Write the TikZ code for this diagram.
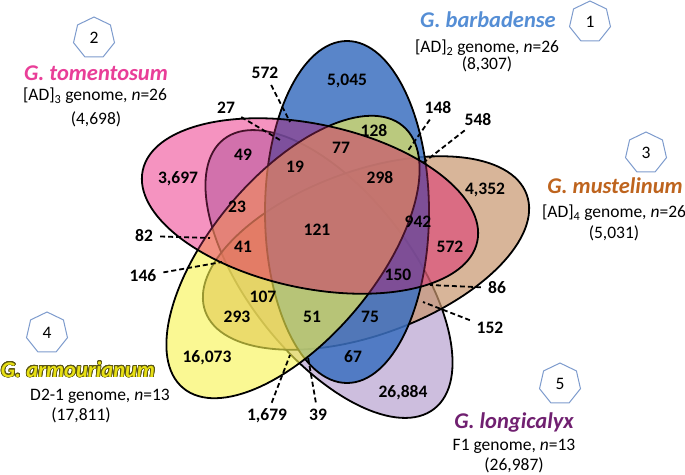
\documentclass[tikz,border=0pt]{standalone}
\usepackage{fontspec}
\setmainfont{Carlito}
\usepackage{tikz}
\usetikzlibrary{shapes.geometric}
\usepackage[copies]{contour}
\contourlength{0.7pt}
\contournumber{24}

\definecolor{bluefill}{RGB}{60,112,192}
\definecolor{pinksoft}{RGB}{250,185,215}
\definecolor{pinkfill}{RGB}{235,60,140}
\definecolor{tanfill}{RGB}{200,150,110}
\definecolor{yellowfill}{RGB}{247,244,80}
\definecolor{lavfill}{RGB}{205,190,222}
\definecolor{hepline}{RGB}{125,155,205}
\definecolor{bluetext}{RGB}{85,142,213}
\definecolor{pinktext}{RGB}{233,62,152}
\definecolor{browntext}{RGB}{190,100,30}
\definecolor{yellowtext}{RGB}{232,224,20}
\definecolor{edgetext}{RGB}{90,85,20}
\definecolor{purpletext}{RGB}{112,32,112}

\begin{document}
\begin{tikzpicture}[x=1pt, y=-1pt,
        venn/.style = {line width=1.8pt, draw=black},
        cnt/.style = {font=\fontsize{17.5}{18}\selectfont\bfseries, text height=11pt, text depth=0pt, inner sep=1pt},
        hept/.style = {draw=hepline, line width=1pt, fill=white, regular polygon, regular polygon sides=7, minimum size=42pt, inner sep=0pt, font=\fontsize{17.5}{18}\selectfont},
        species/.style = {font=\fontsize{22.5}{23}\selectfont\bfseries\itshape, text height=14pt, text depth=0pt, inner sep=0pt},
        genome/.style = {font=\fontsize{17.5}{18}\selectfont, text height=11pt, text depth=0pt, inner sep=0pt},
        leader/.style = {line width=1.8pt, dash pattern=on 5pt off 3pt, shorten <=6pt}]
        \useasboundingbox (0,0) rectangle (685,474);

        \draw[venn, fill=lavfill] (329,274) ellipse [x radius=171pt, y radius=82pt, rotate=-52];
        \draw[venn, fill=tanfill, fill opacity=0.7] (366,253) ellipse [x radius=171pt, y radius=82pt, rotate=20];
        \draw[venn, fill=bluefill, fill opacity=0.85] (347,212) ellipse [x radius=171pt, y radius=82pt, rotate=90];
        \draw[venn, fill=yellowfill, fill opacity=0.62] (293,257) ellipse [x radius=171pt, y radius=82pt, rotate=50];
        \fill[pinksoft, blend mode=multiply] (310,206) ellipse [x radius=171pt, y radius=82pt, rotate=-12];
        \draw[venn, fill=pinkfill, fill opacity=0.3] (310,206) ellipse [x radius=171pt, y radius=82pt, rotate=-12];

        \node[hept] (h1) at (590,22) {1};
        \node[hept] (h2) at (94,38) {2};
        \node[hept] (h3) at (646,153) {3};
        \node[hept] (h4) at (47,333) {4};
        \node[hept] (h5) at (560,384) {5};

        \node[species, text=bluetext] (t1) at (488,20) {G. barbadense};
        \node[genome] (g1) at (487,47) {[AD]\textsubscript{2} genome, \textit{n}=26};
        \node[genome] (c1) at (487,64) {(8,307)};
        \node[species, text=pinktext] (t2) at (96,73) {G. tomentosum};
        \node[genome] (g2) at (95,95) {[AD]\textsubscript{3} genome, \textit{n}=26};
        \node[genome] (c2) at (96,119) {(4,698)};
        \node[species, text=browntext] (t3) at (615,186) {G. mustelinum};
        \node[genome] (g3) at (614,212) {[AD]\textsubscript{4} genome, \textit{n}=26};
        \node[genome] (c3) at (614,233) {(5,031)};
        \node[species, text=yellowtext] (t4) at (78,370) {\contour{edgetext}{G. armourianum}};
        \node[genome] (g4) at (100,395) {D2-1 genome, \textit{n}=13};
        \node[genome] (c4) at (81,415) {(17,811)};
        \node[species, text=purpletext] (t5) at (514,421) {G. longicalyx};
        \node[genome] (g5) at (514,445) {F1 genome, \textit{n}=13};
        \node[genome] (c5) at (514,465) {(26,987)};

        \node[cnt] (n5045) at (347,80) {5,045};
        \node[cnt] (n572a) at (265,73) {572};
        \node[cnt] (n27) at (226,108) {27};
        \node[cnt] (n148) at (438,108) {148};
        \node[cnt] (n548) at (478,120) {548};
        \node[cnt] (n128) at (374,131) {128};
        \node[cnt] (n77) at (341,148) {77};
        \node[cnt] (n49) at (243,155) {49};
        \node[cnt] (n19) at (295,167) {19};
        \node[cnt] (n298) at (380,178) {298};
        \node[cnt] (n3697) at (178,178) {3,697};
        \node[cnt] (n4352) at (485,189) {4,352};
        \node[cnt] (n23) at (237,207) {23};
        \node[cnt] (n121) at (317,230) {121};
        \node[cnt] (n942) at (418,222) {942};
        \node[cnt] (n572b) at (450,247) {572};
        \node[cnt] (n41) at (243,247) {41};
        \node[cnt] (n82) at (144,236) {82};
        \node[cnt] (n146) at (143,276) {146};
        \node[cnt] (n150) at (398,275) {150};
        \node[cnt] (n86) at (497,288) {86};
        \node[cnt] (n152) at (490,328) {152};
        \node[cnt] (n107) at (263,297) {107};
        \node[cnt] (n293) at (237,317) {293};
        \node[cnt] (n51) at (312,317) {51};
        \node[cnt] (n75) at (370,317) {75};
        \node[cnt] (n16073) at (207,357) {16,073};
        \node[cnt] (n67) at (353,357) {67};
        \node[cnt] (n26884) at (403,392) {26,884};
        \node[cnt] (n1679) at (267,415) {1,679};
        \node[cnt] (n39) at (318,415) {39};

        \coordinate (p572a) at (290,122);
        \coordinate (p27) at (280,140);
        \coordinate (p148) at (407,152);
        \coordinate (p548) at (423,163);
        \coordinate (p82) at (210,238);
        \coordinate (p146) at (222,262);
        \coordinate (p86) at (430,285);
        \coordinate (p152) at (423,302);
        \coordinate (p1679) at (290,355);
        \coordinate (p39) at (308,357);

        \draw[leader] (n572a) -- (p572a);
        \draw[leader] (n27) -- (p27);
        \draw[leader] (n148) -- (p148);
        \draw[leader] (n548) -- (p548);
        \draw[leader] (n82) -- (p82);
        \draw[leader] (n146) -- (p146);
        \draw[leader] (n86) -- (p86);
        \draw[leader] (n152) -- (p152);
        \draw[leader] (n1679) -- (p1679);
        \draw[leader] (n39) -- (p39);
\end{tikzpicture}
\end{document}
